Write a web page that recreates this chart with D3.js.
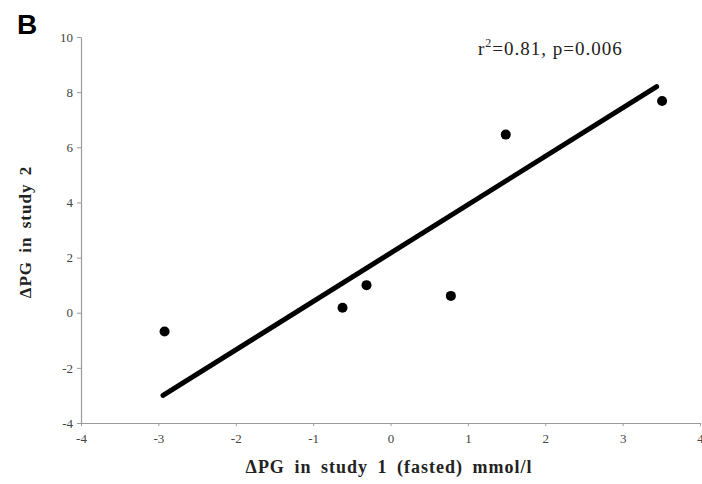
<!DOCTYPE html>
<html>
<head>
<meta charset="utf-8">
<script src="https://cdn.jsdelivr.net/npm/d3@7"></script>
<style>
  body { margin: 0; background: #fff; }
  svg { display: block; }
</style>
</head>
<body>
<div id="chart"></div>
<script>
// values
var study1 = [-2.92, -0.62, -0.31, 0.78, 1.49, 3.51];
var study2 = [-0.68, 0.18, 1.0, 0.61, 6.46, 7.68];
var fitX = [-2.94, 3.44];
var fitY = [-3.0, 8.2];
var xTicks = [-4, -3, -2, -1, 0, 1, 2, 3, 4];
var yTicks = [-4, -2, 0, 2, 4, 6, 8, 10];

var width = 702, height = 484;
var svg = d3.select("#chart").append("svg")
    .attr("width", width)
    .attr("height", height);

var x = d3.scaleLinear().domain([-4, 4]).range([81, 700]);
var y = d3.scaleLinear().domain([-4, 10]).range([423, 37]);

var axisColor = "#9a9a9a";
var serif = "'Liberation Serif', 'Times New Roman', serif";

// axes
var xAxis = svg.append("g")
    .attr("transform", "translate(0," + y(-4) + ")")
    .call(d3.axisBottom(x).tickValues(xTicks).tickSize(3).tickSizeOuter(0)
        .tickFormat(function (d) { return String(d); }));
var yAxis = svg.append("g")
    .attr("transform", "translate(" + x(-4) + ",0)")
    .call(d3.axisLeft(y).tickValues(yTicks).tickSize(4).tickSizeOuter(0)
        .tickFormat(function (d) { return String(d); }));

[xAxis, yAxis].forEach(function (g) {
    g.attr("font-family", serif).attr("font-size", 13);
    g.select(".domain").attr("stroke", axisColor).attr("stroke-width", 1.2);
    g.selectAll(".tick line").attr("stroke", axisColor);
    g.selectAll(".tick text").attr("fill", "#444");
});
xAxis.selectAll(".tick text").attr("dy", "1.1em");
yAxis.selectAll(".tick text").attr("x", -8);

// regression line
svg.append("line")
    .attr("x1", x(fitX[0])).attr("y1", y(fitY[0]))
    .attr("x2", x(fitX[1])).attr("y2", y(fitY[1]))
    .attr("stroke", "#000")
    .attr("stroke-width", 5)
    .attr("stroke-linecap", "round");

// points
svg.selectAll(".dot")
    .data(study1)
    .enter().append("circle")
    .attr("class", "dot")
    .attr("cx", function (d) { return x(d); })
    .attr("cy", function (d, i) { return y(study2[i]); })
    .attr("r", 5)
    .attr("fill", "#000");

// panel letter
svg.append("text")
    .attr("x", 17).attr("y", 34)
    .style("font-family", "'Liberation Sans', Arial, sans-serif")
    .style("font-weight", "bold")
    .style("font-size", "28px")
    .text("B");

// annotation
var ann = svg.append("text")
    .attr("x", 478).attr("y", 55)
    .attr("fill", "#222")
    .style("font-family", serif)
    .style("font-size", "19px")
    .style("letter-spacing", "1px");
ann.append("tspan").text("r");
ann.append("tspan").attr("dy", -8).style("font-size", "12px").text("2");
ann.append("tspan").attr("dy", 8).text("=0.81, p=0.006");

// axis titles
svg.append("text")
    .attr("x", 389).attr("y", 473)
    .attr("text-anchor", "middle")
    .attr("fill", "#222")
    .style("font-family", serif)
    .style("font-weight", "bold")
    .style("font-size", "18px")
    .style("letter-spacing", "1px")
    .style("word-spacing", "4px")
    .text("\u0394PG in study 1 (fasted) mmol/l");

svg.append("text")
    .attr("transform", "translate(31,232) rotate(-90)")
    .attr("text-anchor", "middle")
    .attr("fill", "#222")
    .style("font-family", serif)
    .style("font-weight", "bold")
    .style("font-size", "17px")
    .style("letter-spacing", "1px")
    .style("word-spacing", "3px")
    .text("\u0394PG in study 2");
</script>
</body>
</html>
